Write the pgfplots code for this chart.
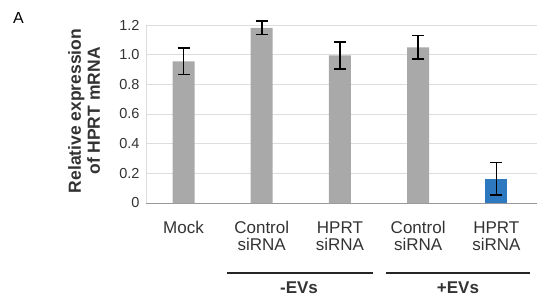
\documentclass[border=0pt]{standalone}
\usepackage{pgfplots}
\pgfplotsset{compat=1.18}
\usepackage{fontspec}
\setmainfont{Liberation Sans}
\definecolor{bargray}{HTML}{A9A9A9}
\definecolor{barblue}{HTML}{2E78C0}
\definecolor{gridc}{HTML}{DDDDDD}
\definecolor{txt}{HTML}{333333}
\begin{document}
\begin{tikzpicture}
\path[use as bounding box] (0pt,0pt) rectangle (542pt,-303pt);
\begin{axis}[
  at={(146pt,-203pt)}, anchor=south west,
  scale only axis, width=391pt, height=178pt,
  xmin=-0.48, xmax=4.52, ymin=0, ymax=1.2,
  axis x line=bottom, axis y line=left,
  axis line style={-, draw=gridc, line width=0.8pt},
  x axis line style={draw=gray!80},
  ytick={0,0.2,...,1.2},
  yticklabels={0,0.2,0.4,0.6,0.8,1.0,1.2},
  ymajorgrids, grid style={gridc, line width=0.7pt},
  major tick length=0pt,
  xtick={0,1,2,3,4},
  xticklabels={Mock,{Control\\siRNA},{HPRT\\siRNA},{Control\\siRNA},{HPRT\\siRNA}},
  xticklabel style={align=center, font=\fontsize{17}{17}\selectfont, text=txt, yshift=-15pt},
  yticklabel style={font=\fontsize{14.5}{15}\selectfont, text=txt, xshift=-3pt},
  clip=false,
  /pgf/number format/assume math mode=true,
]
\addplot[ybar, bar width=22pt, fill=bargray, draw=none,
  error bars/.cd, y dir=both, y explicit,
  error bar style={black, line width=1.6pt},
  error mark options={black, line width=1.6pt, mark size=6pt, rotate=90}]
  coordinates {(0,0.955) +- (0,0.09) (1,1.18) +- (0,0.045) (2,0.995) +- (0,0.09) (3,1.05) +- (0,0.08)};
\addplot[ybar, bar width=22pt, fill=barblue, draw=none,
  error bars/.cd, y dir=both, y explicit,
  error bar style={black, line width=1.6pt},
  error mark options={black, line width=1.6pt, mark size=6pt, rotate=90}]
  coordinates {(4,0.162) +- (0,0.11)};
\end{axis}
\node[font=\fontsize{16}{16}\selectfont, text=black] at (18.5pt,-17.5pt) {A};
\node[rotate=90, align=center, font=\bfseries\fontsize{17.5}{19}\selectfont, text=txt] at (84pt,-111pt) {Relative expression\\of HPRT mRNA};
\draw[black!85, line width=1.6pt] (227pt,-272.7pt) -- (373pt,-272.7pt);
\draw[black!85, line width=1.6pt] (386pt,-272.7pt) -- (530pt,-272.7pt);
\node[font=\bfseries\fontsize{17}{17}\selectfont, text=txt] at (299pt,-288pt) {-EVs};
\node[font=\bfseries\fontsize{17}{17}\selectfont, text=txt] at (458pt,-288pt) {+EVs};
\end{tikzpicture}
\end{document}
